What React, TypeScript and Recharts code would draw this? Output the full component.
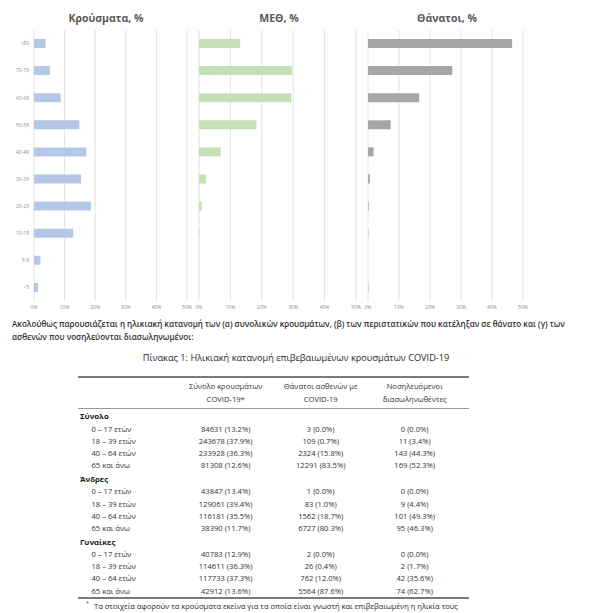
import { Bar, BarChart, CartesianGrid, XAxis, YAxis } from "recharts";

const ageBands = [">80", "70-79", "60-69", "50-59", "40-49", "30-39", "20-29", "10-19", "5-9", "<5"];
const casesPct = [3.8, 5.2, 8.7, 14.8, 17.1, 15.4, 18.6, 12.8, 2.1, 1.3];
const icuPct = [13.1, 29.6, 29.4, 18.3, 6.9, 2.2, 0.9, 0.2, 0, 0];
const deathsPct = [46.5, 27.2, 16.5, 7.3, 1.8, 0.6, 0.2, 0.1, 0, 0.1];
const pctTicks = [0, 10, 20, 30, 40, 50];

const tableGroups = ["Σύνολο", "Άνδρες", "Γυναίκες"];
const tableAges = ["0 – 17 ετών", "18 – 39 ετών", "40 – 64 ετών", "65 και άνω"];
const tableHeaders = [
  ["Σύνολο κρουσμάτων", "COVID-19*"],
  ["Θάνατοι ασθενών με", "COVID-19"],
  ["Νοσηλευόμενοι", "διασωληνωθέντες"],
];
// [group][column][age]
const tableCounts = [
  [[84631, 243678, 233928, 81308], [3, 109, 2324, 12291], [0, 11, 143, 169]],
  [[43847, 129061, 116181, 38390], [1, 83, 1562, 6727], [0, 9, 101, 95]],
  [[40783, 114611, 117733, 42912], [2, 26, 762, 5564], [0, 2, 42, 74]],
];
const tablePcts = [
  [[13.2, 37.9, 36.3, 12.6], [0.0, 0.7, 15.8, 83.5], [0.0, 3.4, 44.3, 52.3]],
  [[13.4, 39.4, 35.5, 11.7], [0.0, 1.0, 18.7, 80.3], [0.0, 4.4, 49.3, 46.3]],
  [[12.9, 36.3, 37.3, 13.6], [0.0, 0.4, 12.0, 87.6], [0.0, 1.7, 35.6, 62.7]],
];

const FONT = "'Open Sans', 'Noto Sans', sans-serif";
const tickStyle = { fill: "#8c8c8c", fontSize: 5, fontFamily: FONT };

function T({ x, y, children, align = "left", size = 8, weight = 400, color = "#333", w = 300 }: any) {
  const h = size * 1.4;
  const left = align === "center" ? x - w / 2 : align === "right" ? x - w : x;
  return (
    <div
      style={{
        position: "absolute",
        left,
        top: y - h / 2,
        width: w,
        height: h,
        lineHeight: `${h}px`,
        fontSize: size,
        fontWeight: weight,
        color,
        textAlign: align,
        whiteSpace: "nowrap",
        fontFamily: FONT,
      }}
    >
      {children}
    </div>
  );
}

function Panel({ left, width, margin, values, color, title, titleX, showY }: any) {
  const data = ageBands.map((band, i) => ({ band, v: values[i] }));
  return (
    <>
      <T x={titleX} y={18} align="center" size={10.5} weight={700} color="#595959" w={160}>
        {title}
      </T>
      <div style={{ position: "absolute", left, top: 0 }}>
        <BarChart width={width} height={313} data={data} layout="vertical" margin={margin} barSize={9}>
          <CartesianGrid horizontal={false} stroke="#e3e3e3" />
          <XAxis
            type="number"
            domain={[0, 50]}
            ticks={pctTicks}
            tickFormatter={(v) => `${v}%`}
            axisLine={false}
            tickLine={false}
            tickSize={2}
            height={12}
            tick={tickStyle}
            interval={0}
          />
          <YAxis
            type="category"
            dataKey="band"
            hide={!showY}
            width={34}
            axisLine={false}
            tickLine={false}
            tickSize={0}
            tickMargin={5}
            tick={tickStyle}
            interval={0}
          />
          <Bar dataKey="v" fill={color} isAnimationActive={false} />
        </BarChart>
      </div>
    </>
  );
}

export default function App() {
  const colX = [225.7, 320.7, 414.7];
  return (
    <div style={{ position: "absolute", left: 0, top: 0, width: 600, height: 613, background: "#fff", overflow: "hidden" }}>
      <Panel left={0} width={200} margin={{ top: 30, right: 13, bottom: 0, left: 0 }} values={casesPct} color="#b4c7e7" title="Κρούσματα, %" titleX={106} showY />
      <Panel left={190} width={175} margin={{ top: 30, right: 9, bottom: 0, left: 9 }} values={icuPct} color="#c5e0b4" title="ΜΕΘ, %" titleX={279} />
      <Panel left={360} width={175} margin={{ top: 30, right: 12, bottom: 0, left: 8 }} values={deathsPct} color="#a6a6a6" title="Θάνατοι, %" titleX={447} />

      <T x={12} y={324} size={8.05} weight={600} color="#303030" w={580}>
        Ακολούθως παρουσιάζεται η ηλικιακή κατανομή των (α) συνολικών κρουσμάτων, (β) των περιστατικών που κατέληξαν σε θάνατο και (γ) των
      </T>
      <T x={12} y={337} size={8.05} weight={600} color="#303030" w={580}>
        ασθενών που νοσηλεύονται διασωληνωμένοι:
      </T>
      <T x={296} y={358} align="center" size={9.2} weight={500} color="#262626" w={400}>
        Πίνακας 1: Ηλικιακή κατανομή επιβεβαιωμένων κρουσμάτων COVID-19
      </T>

      <div style={{ position: "absolute", left: 78, top: 376, width: 391, height: 2, background: "#7a7a7a" }} />
      <div style={{ position: "absolute", left: 78, top: 408, width: 391, height: 1, background: "#9a9a9a" }} />
      <div style={{ position: "absolute", left: 78, top: 597, width: 391, height: 2, background: "#7a7a7a" }} />

      {tableHeaders.map((lines, c) =>
        lines.map((line, k) => (
          <T key={`h${c}${k}`} x={colX[c]} y={386.7 + k * 12.3} align="center" size={7.6} weight={500} color="#333" w={120}>
            {line}
          </T>
        ))
      )}

      {tableGroups.map((g, gi) => {
        const gy = 416.7 + gi * 62.8;
        return (
          <div key={g}>
            <T x={80} y={gy} size={7.8} weight={700} color="#1a1a1a" w={100}>
              {g}
            </T>
            {tableAges.map((age, ai) => {
              const ry = gy + 12.3 + ai * 12.1;
              return (
                <div key={age}>
                  <T x={91.5} y={ry} size={7.6} weight={500} color="#333" w={100}>
                    {age}
                  </T>
                  {tableCounts[gi].map((col, ci) => (
                    <T key={ci} x={colX[ci]} y={ry} align="center" size={7.6} weight={500} color="#333" w={120}>
                      {`${col[ai]} (${tablePcts[gi][ci][ai].toFixed(1)}%)`}
                    </T>
                  ))}
                </div>
              );
            })}
          </div>
        );
      })}

      <T x={86} y={603} size={5} color="#333" w={10}>
        *
      </T>
      <T x={94} y={606} size={7.55} weight={500} color="#262626" w={400}>
        Τα στοιχεία αφορούν τα κρούσματα εκείνα για τα οποία είναι γνωστή και επιβεβαιωμένη η ηλικία τους
      </T>
    </div>
  );
}
